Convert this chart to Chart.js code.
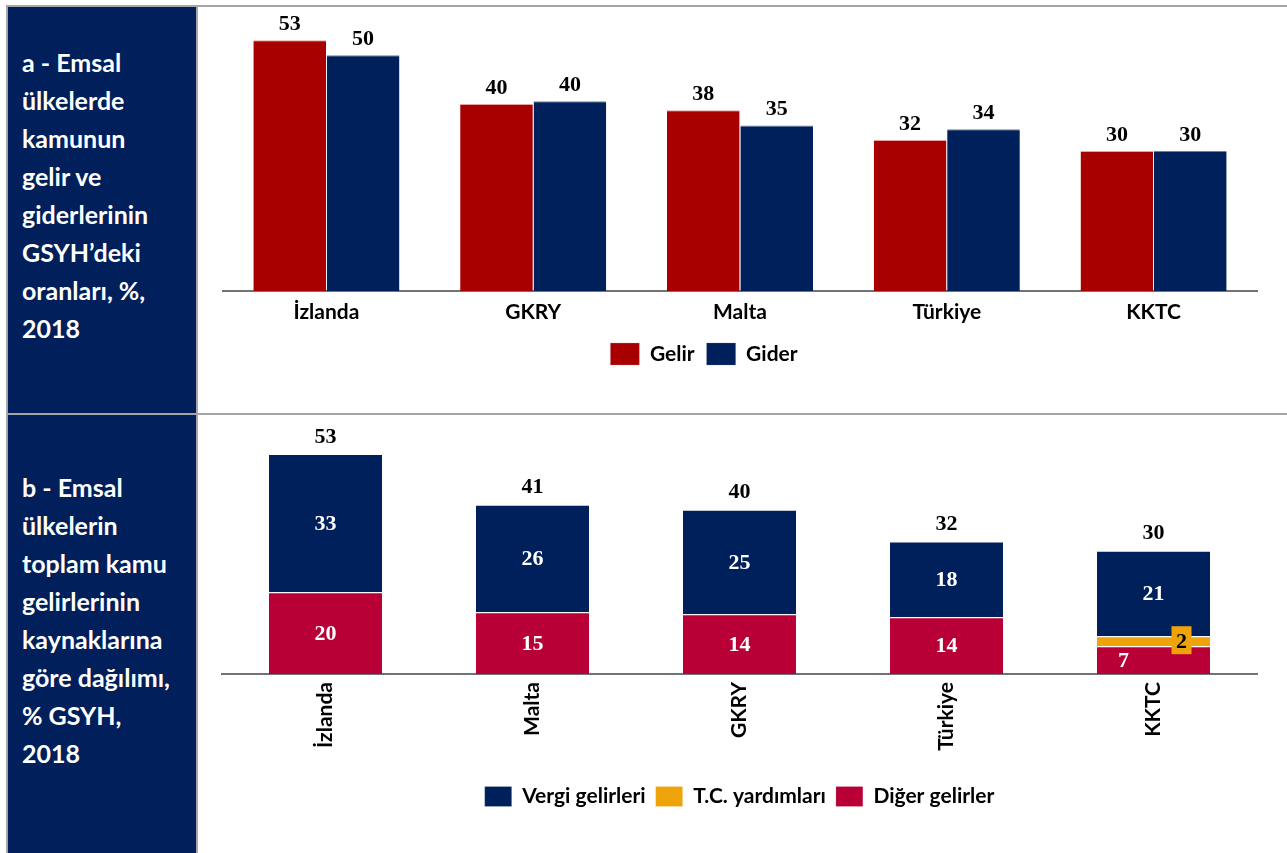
<!DOCTYPE html>
<html lang="tr">
<head>
<meta charset="utf-8">
<script src="https://cdn.jsdelivr.net/npm/chart.js@4/dist/chart.umd.min.js"></script>
<style>
  body { margin: 0; background: #fff; width: 1287px; height: 853px; overflow: hidden; position: relative; }
  .line { position: absolute; background: #a6a6a6; }
  .panel { position: absolute; left: 8px; top: 7px; width: 189px; height: 846px; background: #001f5b; }
  .title { position: absolute; left: 22px; color: #fff; font: bold 25px Lato, sans-serif; line-height: 38px; }
  .box { position: absolute; left: 199px; width: 1088px; }
</style>
</head>
<body>
<div class="panel"></div>
<div class="line" style="left:6px;top:5px;width:1281px;height:2px"></div>
<div class="line" style="left:6px;top:5px;width:2px;height:848px"></div>
<div class="line" style="left:196px;top:7px;width:2px;height:846px"></div>
<div class="line" style="left:6px;top:413px;width:1281px;height:2px"></div>

<div class="title" style="top:43px">a - Emsal<br>ülkelerde<br>kamunun<br>gelir ve<br>giderlerinin<br>GSYH’deki<br>oranları, %,<br>2018</div>
<div class="title" style="top:468px">b - Emsal<br>ülkelerin<br>toplam kamu<br>gelirlerinin<br>kaynaklarına<br>göre dağılımı,<br>% GSYH,<br>2018</div>

<div class="box" style="top:7px;height:406px"><canvas id="chartA"></canvas></div>
<div class="box" style="top:416px;height:437px"><canvas id="chartB"></canvas></div>

<script>
// panel a
const countriesA = ['İzlanda', 'GKRY', 'Malta', 'Türkiye', 'KKTC'];
const gelir = [53.0, 39.5, 38.2, 31.9, 29.6];
const gider = [49.8, 40.1, 35.0, 34.2, 29.6];

// panel b
const countriesB = ['İzlanda', 'Malta', 'GKRY', 'Türkiye', 'KKTC'];
const vergi = [33.3, 25.9, 25.2, 18.2, 20.6];
const tcYardim = [0, 0, 0, 0, 2.4];
const diger = [19.7, 14.9, 14.4, 13.7, 6.7];

const NAVY = '#00205b';
const RED = '#a80000';
const CRIMSON = '#b80037';
const GOLD = '#eea30b';

const numFont = 'bold 22px "Liberation Serif", serif';
const tickFont = { family: 'Lato, sans-serif', size: 21, weight: 'bold' };
const legendFont = { family: 'Lato, sans-serif', size: 21, weight: 'bold' };

// labels above the grouped bars
const topLabels = {
  id: 'topLabels',
  afterLayout(chart) {
    // legend of panel a sits a bit left of the plot centre
    chart.legend.left -= 36;
    chart.legend.right -= 36;
  },
  afterDatasetsDraw(chart) {
    const ctx = chart.ctx;
    ctx.save();
    ctx.font = numFont;
    ctx.fillStyle = '#000';
    ctx.textAlign = 'center';
    ctx.textBaseline = 'middle';
    chart.data.datasets.forEach((ds, di) => {
      chart.getDatasetMeta(di).data.forEach((bar, i) => {
        ctx.fillText(Math.round(ds.data[i]), bar.x, bar.y - 16);
      });
    });
    ctx.restore();
  }
};

// labels inside the stacks + totals
const stackLabels = {
  id: 'stackLabels',
  afterDatasetsDraw(chart) {
    const ctx = chart.ctx;
    const sets = chart.data.datasets;
    ctx.save();
    ctx.font = numFont;
    ctx.textAlign = 'center';
    ctx.textBaseline = 'middle';
    sets.forEach((ds, di) => {
      chart.getDatasetMeta(di).data.forEach((bar, i) => {
        const v = ds.data[i];
        if (!v) return;
        const y = (bar.y + bar.base) / 2;
        if (v < 5) {
          // small segment: value in a coloured box on the right
          const x = bar.x + 28;
          ctx.fillStyle = ds.backgroundColor;
          ctx.fillRect(x - 10, y - 15, 20, 28);
          ctx.fillStyle = '#000';
          ctx.fillText(Math.round(v), x, y + 1);
        } else {
          ctx.fillStyle = '#fff';
          const x = v < 10 ? bar.x - 30 : bar.x;
          ctx.fillText(Math.round(v), x, y + 1);
        }
      });
    });
    // totals
    const topMeta = chart.getDatasetMeta(sets.length - 1);
    ctx.fillStyle = '#000';
    topMeta.data.forEach((bar, i) => {
      const total = sets.reduce((s, ds) => s + ds.data[i], 0);
      ctx.fillText(Math.round(total), bar.x, bar.y - 17);
    });
    ctx.restore();
  }
};

new Chart(document.getElementById('chartA'), {
  type: 'bar',
  data: {
    labels: countriesA,
    datasets: [
      { label: 'Gelir', data: gelir, backgroundColor: RED, borderColor: '#e8a0a0', borderWidth: { top: 1 }, borderSkipped: 'bottom' },
      { label: 'Gider', data: gider, backgroundColor: NAVY, borderColor: '#6a7fa8', borderWidth: { top: 1 }, borderSkipped: 'bottom' }
    ]
  },
  options: {
    responsive: true,
    maintainAspectRatio: false,
    animation: false,
    layout: { padding: { left: 24, right: 30, top: 19, bottom: 38 } },
    datasets: { bar: { categoryPercentage: 0.71, barPercentage: 0.99 } },
    plugins: {
      legend: {
        position: 'bottom',
        labels: { color: '#000', font: legendFont, boxWidth: 29, boxHeight: 22, padding: 12 }
      },
      tooltip: { enabled: false }
    },
    scales: {
      x: {
        grid: { display: false, drawTicks: false },
        border: { display: true, color: '#737373', width: 2 },
        ticks: { color: '#000', font: tickFont, padding: 9 },
        afterFit(s) { s.height = 40; }
      },
      y: { display: false, min: 0, max: 56 }
    }
  },
  plugins: [topLabels]
});

new Chart(document.getElementById('chartB'), {
  type: 'bar',
  data: {
    labels: countriesB,
    datasets: [
      { label: 'Diğer gelirler', data: diger, backgroundColor: CRIMSON },
      { label: 'T.C. yardımları', data: tcYardim, backgroundColor: GOLD },
      { label: 'Vergi gelirleri', data: vergi, backgroundColor: NAVY }
    ]
  },
  options: {
    responsive: true,
    maintainAspectRatio: false,
    animation: false,
    layout: { padding: { left: 23, right: 30, top: 9, bottom: 36 } },
    datasets: { bar: { categoryPercentage: 1, barPercentage: 0.546, borderColor: 'rgba(255,255,255,0.75)', borderWidth: { top: 1 }, borderSkipped: 'bottom' } },
    plugins: {
      legend: {
        position: 'bottom',
        reverse: true,
        labels: { color: '#000', font: legendFont, boxWidth: 27, boxHeight: 20, padding: 10 }
      },
      tooltip: { enabled: false }
    },
    scales: {
      x: {
        stacked: true,
        grid: { display: false, drawTicks: false },
        border: { display: true, color: '#737373', width: 2 },
        ticks: { color: '#000', font: tickFont, padding: 8, maxRotation: 90, minRotation: 90, autoSkip: false },
        afterFit(s) { s.height = 102; }
      },
      y: { display: false, stacked: true, min: 0, max: 60 }
    }
  },
  plugins: [stackLabels]
});
</script>
</body>
</html>
